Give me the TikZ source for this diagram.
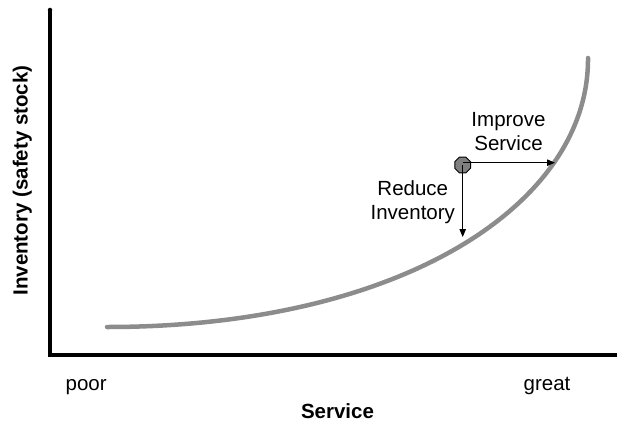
\documentclass[tikz,border=0pt]{standalone}
\usepackage{fontspec}
\setmainfont{Liberation Sans}
\usetikzlibrary{arrows.meta,shapes.geometric}
\begin{document}
\begin{tikzpicture}[x=1pt,y=-1pt,
  lbl/.style={inner sep=0pt,font=\fontsize{20.5}{24}\selectfont},
  axisline/.style={line width=4.5pt,black},
  curveline/.style={line width=4.5pt,color=curvegray,line cap=round},
  movearrow/.style={line width=0.9pt,-{Triangle[length=8pt,width=6.5pt]}},
]
\definecolor{curvegray}{RGB}{140,140,140}
\definecolor{octgray}{RGB}{128,128,128}
\useasboundingbox (0,0) rectangle (617,422);
% axes
\coordinate (ytop) at (50,10);
\coordinate (origin) at (50,355);
\coordinate (xend) at (617,355);
\draw[axisline,line join=miter] (ytop) -- (origin) -- (xend);
\fill (ytop) circle (2.25pt);
% curve
\draw[curveline] (107,327) .. controls (400,327) and (589,205) .. (588,58);
% point
\node[regular polygon,regular polygon sides=8,draw=black,line width=0.9pt,fill=octgray,minimum size=17pt,inner sep=0pt] (oct) at (462.7,165) {};
\coordinate (redtip) at (462.7,237);
\coordinate (imptip) at (555,162.7);
\draw[movearrow] (oct.center) -- (redtip);
\draw[movearrow] (462.7,162.7) -- (imptip);
% labels
\node[lbl,align=center] (imp) at (508.5,131.4) {Improve\\Service};
\node[lbl,align=center] (red) at (412.8,201.8) {Reduce\\Inventory};
\node[lbl,anchor=base west] (poor) at (65.5,390) {poor};
\node[lbl,anchor=base west] (great) at (523.5,390) {great};
\node[lbl,anchor=base,font=\fontsize{20.5}{24}\selectfont\bfseries] (xlab) at (337.5,418) {Service};
\node[lbl,anchor=base,rotate=90,font=\fontsize{20.5}{24}\selectfont\bfseries] (ylab) at (27.5,180.5) {Inventory (safety stock)};
\end{tikzpicture}
\end{document}
